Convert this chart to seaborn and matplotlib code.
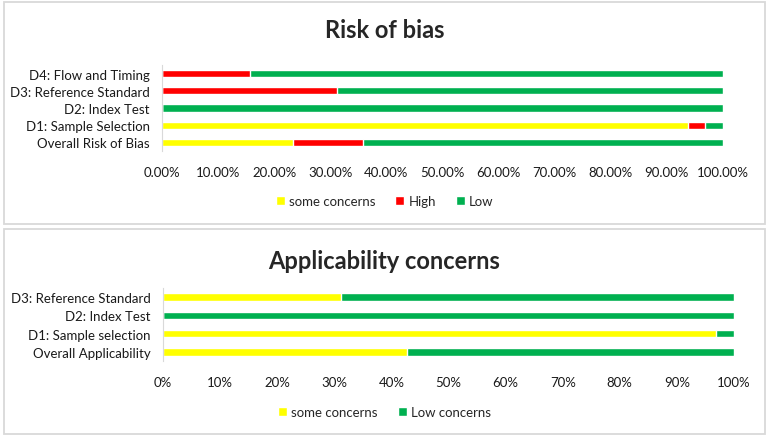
import numpy as np
import pandas as pd
import matplotlib
matplotlib.use('Agg')
import matplotlib.pyplot as plt
import seaborn as sns
from matplotlib.patches import Patch, Rectangle

# Risk of bias (percent of studies)
bias_domains = ['D4: Flow and Timing', 'D3: Reference Standard', 'D2: Index Test',
                'D1: Sample Selection', 'Overall Risk of Bias']
bias_some = [0, 0, 0, 93.75, 23.4]
bias_high = [15.6, 31.25, 0, 3.125, 12.5]
bias_low = [84.4, 68.75, 100, 3.125, 64.1]

# Applicability concerns (percent of studies)
app_domains = ['D3: Reference Standard', 'D2: Index Test',
               'D1: Sample selection', 'Overall Applicability']
app_some = [31.2, 0, 96.8, 42.7]
app_low = [68.8, 100, 3.2, 57.3]

yellow, red, green = '#FFFF00', '#FF0000', '#00B050'
edge_grey = '#d9d9d9'

sns.set_style('white')
plt.rcParams['font.family'] = ['Lato', 'DejaVu Sans']

fig = plt.figure(figsize=(7.69, 4.39), dpi=100)

# panel frames
for (y0, y1) in [(3, 225), (230, 435)]:
    fig.patches.append(Rectangle((4 / 769, 1 - y1 / 439), 761 / 769, (y1 - y0) / 439,
                                 transform=fig.transFigure, fill=False,
                                 edgecolor=edge_grey, linewidth=1.3))


def stacked(ax, df, segments, colours):
    # draw cumulative sums from the longest down so that segments stack
    cum = df[segments].cumsum(axis=1)
    for seg, col in reversed(list(zip(segments, colours))):
        sns.barplot(x=cum[seg], y=df['domain'], color=col, width=0.42,
                    orient='h', errorbar=None, saturation=1, ax=ax)
    ax.set_xlim(0, 100)
    ax.set_xticks(np.arange(0, 101, 10))
    ax.set_xlabel('')
    ax.set_ylabel('')
    for s in ['top', 'right', 'bottom']:
        ax.spines[s].set_visible(False)
    ax.spines['left'].set_color(edge_grey)
    ax.tick_params(axis='both', length=0, labelsize=9.5, colors='#1a1a1a')
    ax.tick_params(axis='y', pad=9)
    ax.tick_params(axis='x', pad=11)


# top: risk of bias
bias_df = pd.DataFrame({'domain': bias_domains, 'some': bias_some,
                        'high': bias_high, 'low': bias_low})
ax1 = fig.add_axes([162 / 769, 1 - 152 / 439, 561 / 769, 86 / 439])
stacked(ax1, bias_df, ['some', 'high', 'low'], [yellow, red, green])
ax1.set_ylim(4.5, -0.5)
ax1.set_xticklabels([f'{v:.2f}%' for v in np.arange(0, 101, 10)])
fig.text(0.5, 1 - 31 / 439, 'Risk of bias', ha='center', va='center',
         fontsize=17, fontweight='bold')
fig.legend(handles=[Patch(facecolor=yellow, label='some concerns'),
                    Patch(facecolor=red, label='High'),
                    Patch(facecolor=green, label='Low')],
           loc='center', bbox_to_anchor=(0.5, 1 - 202 / 439), ncol=3, frameon=False,
           fontsize=9.5, handlelength=0.7, handleheight=0.7, handletextpad=0.3,
           columnspacing=1.5)

# bottom: applicability concerns
app_df = pd.DataFrame({'domain': app_domains, 'some': app_some, 'low': app_low})
ax2 = fig.add_axes([163 / 769, 1 - 362 / 439, 571 / 769, 73 / 439])
stacked(ax2, app_df, ['some', 'low'], [yellow, green])
ax2.set_ylim(3.5, -0.5)
ax2.set_xticklabels([f'{v:.0f}%' for v in np.arange(0, 101, 10)])
fig.text(0.5, 1 - 262 / 439, 'Applicability concerns', ha='center', va='center',
         fontsize=17, fontweight='bold')
fig.legend(handles=[Patch(facecolor=yellow, label='some concerns'),
                    Patch(facecolor=green, label='Low concerns')],
           loc='center', bbox_to_anchor=(0.5, 1 - 413 / 439), ncol=2, frameon=False,
           fontsize=9.5, handlelength=0.7, handleheight=0.7, handletextpad=0.3,
           columnspacing=1.5)

fig.savefig('out.png', dpi=100)
